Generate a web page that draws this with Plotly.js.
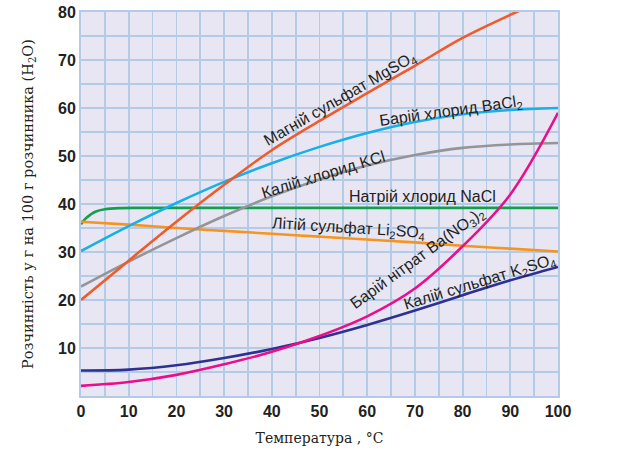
<!DOCTYPE html>
<html>
<head>
<meta charset="utf-8">
<script src="https://cdn.plot.ly/plotly-3.0.1.min.js"></script>
<style>
  html, body { margin: 0; padding: 0; background: #ffffff; }
  #chart { width: 621px; height: 453px; }
</style>
</head>
<body>
<div id="chart"></div>
<script>
// Solubility (g per 100 g of water) against temperature (°C)
const tempsMg = [0, 10, 20, 30, 40, 50, 60, 70, 80, 90, 92];
const mgso4 = [20, 28.2, 36.3, 44, 51.2, 57.3, 63.1, 68.8, 74.6, 79.4, 80.3];

const tempsStd = [0, 10, 20, 30, 40, 50, 60, 70, 80, 90, 100];
const bacl2  = [30.2, 35.4, 40.2, 44.6, 48.5, 51.9, 54.8, 57.1, 58.7, 59.6, 60.0];
const kcl    = [22.8, 28.0, 32.9, 37.5, 41.6, 45.1, 48.0, 50.2, 51.7, 52.4, 52.7];
const li2so4 = [36.3, 35.7, 35.0, 34.4, 33.8, 33.2, 32.6, 32.0, 31.3, 30.7, 30.1];
const k2so4  = [5.3, 5.5, 6.4, 7.9, 9.8, 12.1, 14.8, 17.8, 21.0, 24.1, 26.9];
const bano3  = [2.1, 2.9, 4.4, 6.6, 9.2, 12.5, 16.6, 22.4, 31.2, 42.0, 59];

const tempsNaCl = [0, 1, 2, 3, 5, 8, 12, 20, 40, 60, 80, 100];
const nacl = [35.8, 37.0, 37.8, 38.4, 38.9, 39.15, 39.2, 39.2, 39.2, 39.2, 39.2, 39.2];

// Curve captions and where they sit on the chart (temperature, solubility, angle)
const captions = [
  'Магній сульфат MgSO<sub>4</sub>',
  'Барій хлорид BaCl<sub>2</sub>',
  'Калій хлорид KCl',
  'Натрій хлорид NaCl',
  'Літій сульфат Li<sub>2</sub>SO<sub>4</sub>',
  'Барій нітрат Ba(NO<sub>3</sub>)<sub>2</sub>',
  'Калій сульфат K<sub>2</sub>SO<sub>4</sub>'
];
const captionT = [54.2, 77.6, 50.7, 71.6, 56.0, 70.6, 83.6];
const captionS = [61.8, 59.2, 46.2, 41.6, 35.0, 28.7, 23.7];
const captionAngle = [-30, -8, -17, 0, 3.6, -36, -17];

const xTickVals = [0, 10, 20, 30, 40, 50, 60, 70, 80, 90, 100];
const xTickLabels = ['0', '10', '20', '30', '40', '50', '60', '70', '80', '90', '100'];
const yTickVals = [10, 20, 30, 40, 50, 60, 70, 80];
const yTickLabels = ['10', '20', '30', '40', '50', '60', '70', '80'];

const gridColor = '#b4cbe8';
const textColor = '#231f20';

function curve(x, y, color) {
  return {
    x: x, y: y, type: 'scatter', mode: 'lines',
    line: { color: color, width: 2.6, shape: 'spline', smoothing: 1 },
    hoverinfo: 'skip', showlegend: false, cliponaxis: true
  };
}

const traces = [
  curve(tempsNaCl, nacl, '#12a04f'),
  curve(tempsStd, li2so4, '#f7941d'),
  curve(tempsStd, kcl, '#939598'),
  curve(tempsStd, bacl2, '#16b0ea'),
  curve(tempsMg, mgso4, '#f15a29'),
  curve(tempsStd, k2so4, '#2e3192'),
  curve(tempsStd, bano3, '#ec0d8c')
];

const annotations = captions.map((t, i) => ({
  text: t, x: captionT[i], y: captionS[i], xref: 'x', yref: 'y',
  showarrow: false, textangle: captionAngle[i],
  xanchor: 'center', yanchor: 'middle',
  font: { family: 'Liberation Sans, Arial, sans-serif', size: 16, color: textColor }
}));

const layout = {
  width: 621, height: 453,
  margin: { l: 81, r: 63, t: 12, b: 57 },
  paper_bgcolor: '#ffffff',
  plot_bgcolor: '#e9e6f3',
  showlegend: false,
  xaxis: {
    range: [0, 100], tickmode: 'array', tickvals: xTickVals, ticktext: xTickLabels,
    showgrid: true, gridcolor: gridColor, gridwidth: 1.8,
    minor: { tickmode: 'linear', tick0: 0, dtick: 5, showgrid: true, gridcolor: gridColor, gridwidth: 1.8 },
    showline: true, mirror: true, linecolor: gridColor, linewidth: 2,
    zeroline: false, ticks: '',
    tickfont: { family: 'Liberation Sans, Arial, sans-serif', size: 16, color: textColor, weight: 'bold' },
    title: {
      text: 'Температура , °C', standoff: 14,
      font: { family: 'DejaVu Serif, serif', size: 14, color: textColor }
    }
  },
  yaxis: {
    range: [0, 80], tickmode: 'array', tickvals: yTickVals, ticktext: yTickLabels,
    showgrid: true, gridcolor: gridColor, gridwidth: 1.8,
    minor: { tickmode: 'linear', tick0: 0, dtick: 5, showgrid: true, gridcolor: gridColor, gridwidth: 1.8 },
    showline: true, mirror: true, linecolor: gridColor, linewidth: 2,
    zeroline: false, ticks: '',
    tickfont: { family: 'Liberation Sans, Arial, sans-serif', size: 16, color: textColor, weight: 'bold' },
    title: {
      text: 'Розчинність у г на 100 г розчинника (H<sub>2</sub>O)', standoff: 21,
      font: { family: 'DejaVu Serif, serif', size: 14.5, color: textColor }
    }
  },
  annotations: annotations
};

Plotly.newPlot('chart', traces, layout, { displayModeBar: false, staticPlot: true });
</script>
</body>
</html>
